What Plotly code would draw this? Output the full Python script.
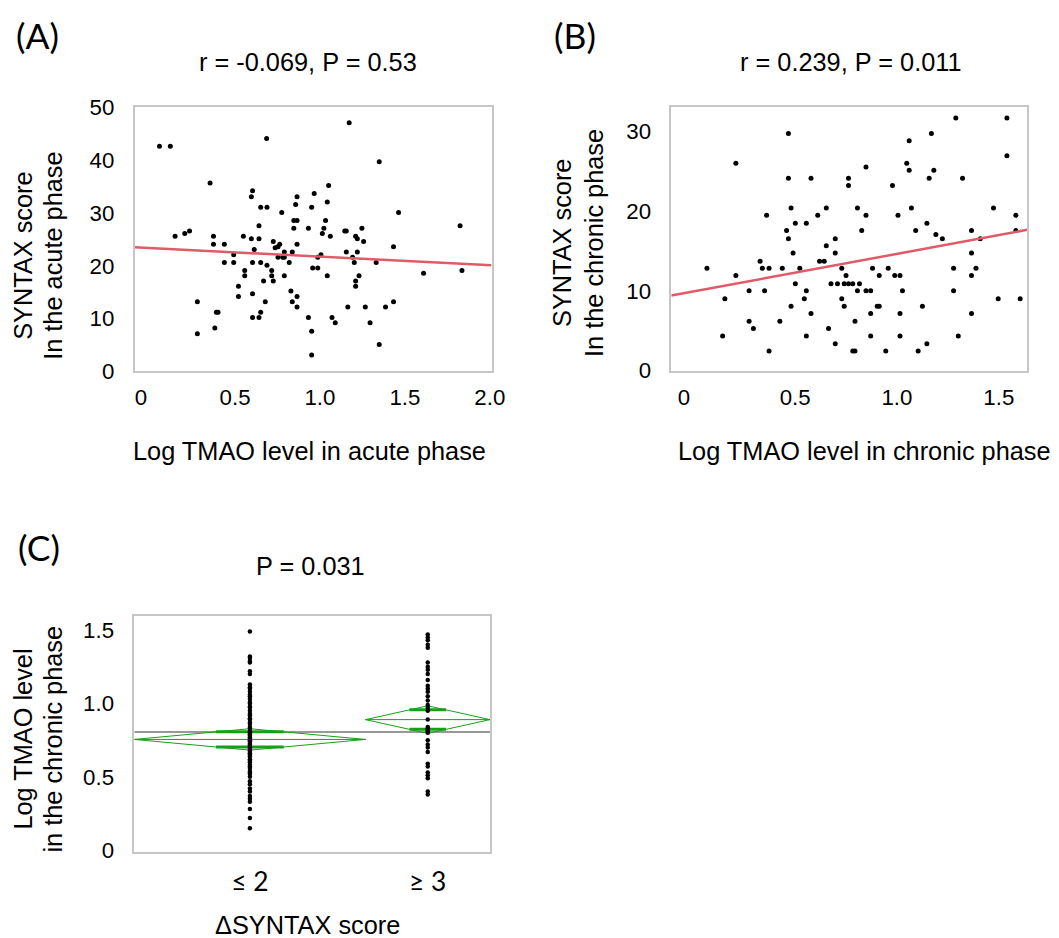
import math
import plotly.graph_objects as go

# target picture size and the figure size used to fill it
W, H = 1059, 938
FW, FH = 1073, 951
FS = FW / W

# ---------------- Panel A data (acute phase) ----------------
a_tmao = [0.055, 0.119, 0.686, 1.172, 1.349, 0.353, 0.603, 0.596, 1.051, 0.966,
          0.865, 1.043, 0.857, 0.651, 0.688, 0.951, 0.775, 1.463, 0.846, 0.865,
          1.033, 0.641, 0.846, 0.932, 1.023, 1.825, 0.147, 0.204, 0.232, 0.373,
          0.373, 0.437, 0.549, 0.596, 0.641, 1.014, 1.061, 1.146, 1.155, 1.247,
          1.210, 1.220, 1.257, 0.725, 0.763, 0.753, 0.736, 0.613, 0.865, 0.790,
          0.837, 0.492, 0.753, 0.781, 0.790, 1.006, 0.987, 1.155, 1.220, 1.192,
          1.433, 0.437, 0.492, 0.603, 0.651, 0.819, 1.202, 1.331, 0.688, 0.557,
          0.716, 0.957, 0.987, 0.557, 0.716, 0.790, 1.043, 1.230, 0.668, 0.725,
          1.210, 1.210, 1.610, 1.836, 0.520, 0.520, 0.603, 0.829, 0.837, 0.865,
          0.865, 0.678, 0.278, 0.390, 0.400, 0.381, 0.278, 0.651, 0.603, 0.641,
          0.932, 0.951, 0.951, 1.071, 1.090, 1.164, 1.267, 1.295, 1.386, 1.433,
          1.349]
a_syntax = [42.65, 42.65, 44.1, 47.1, 39.7, 35.7, 34.2, 33.1, 35.2, 33.7,
            33.1, 32.1, 31.6, 31.1, 31.1, 31.1, 30.1, 30.1, 28.6, 28.6,
            28.6, 27.6, 27.1, 27.1, 27.1, 27.6, 25.6, 26.1, 26.6, 25.6,
            24.1, 24.1, 25.6, 25.1, 25.1, 26.1, 25.6, 26.6, 26.6, 27.1,
            25.6, 25.1, 24.6, 24.6, 24.1, 23.6, 23.4, 23.1, 24.1, 22.6,
            22.6, 22.1, 21.6, 21.6, 21.6, 22.1, 21.6, 22.6, 22.6, 21.6,
            23.6, 20.6, 20.6, 20.6, 20.6, 20.6, 20.6, 20.6, 20.1, 19.1,
            19.1, 19.6, 19.6, 18.1, 18.1, 18.1, 18.1, 18.1, 17.1, 17.1,
            17.1, 16.1, 18.6, 19.1, 16.1, 14.2, 14.7, 15.2, 13.2, 14.2,
            12.2, 13.2, 13.2, 11.2, 11.2, 8.2, 7.1, 11.2, 10.2, 10.2,
            10.2, 7.6, 3.1, 10.2, 9.2, 12.2, 12.2, 9.2, 12.2, 13.2,
            5.1]
a_fit_intercept, a_fit_slope = 23.35, -1.62

# ---------------- Panel B data (chronic phase) ----------------
b_tmao = [1.289, 1.540, 0.467, 1.060, 1.169, 1.540, 0.209, 1.048, 1.060, 1.181,
          0.848, 0.467, 0.578, 0.762, 0.762, 1.158, 1.322, 0.978, 0.480, 0.653,
          0.806, 1.071, 1.474, 0.360, 0.611, 0.848, 1.005, 1.584, 0.501, 0.555,
          1.147, 0.458, 0.827, 1.092, 1.366, 1.584, 0.467, 1.191, 1.223, 1.409,
          0.653, 0.697, 0.490, 0.697, 1.366, 0.328, 0.620, 0.643, 0.067, 0.339,
          0.372, 0.437, 0.523, 0.729, 0.880, 0.957, 1.278, 1.388, 0.209, 0.750,
          0.913, 0.989, 1.015, 1.366, 0.501, 0.676, 0.708, 0.741, 0.762, 0.783,
          0.816, 0.274, 0.350, 0.555, 0.806, 0.848, 0.871, 1.027, 1.278, 0.155,
          0.545, 0.729, 1.497, 1.605, 0.480, 0.741, 0.903, 0.913, 1.125, 0.578,
          0.871, 1.015, 1.366, 0.274, 0.425, 0.794, 0.295, 0.664, 0.144, 0.555,
          0.871, 1.015, 1.301, 0.697, 1.147, 0.372, 0.783, 0.794, 0.945, 1.104]
b_syntax = [31.67, 31.67, 29.75, 28.84, 29.75, 26.93, 26.02, 26.02, 25.12, 25.12,
            25.52, 24.11, 24.11, 24.11, 23.20, 24.11, 24.11, 23.20, 20.38, 20.38,
            20.38, 20.38, 20.38, 19.47, 19.47, 19.47, 19.47, 19.47, 18.47, 18.47,
            18.47, 17.56, 17.56, 17.56, 17.56, 17.56, 16.55, 17.06, 16.55, 16.55,
            15.65, 16.55, 14.74, 14.74, 14.74, 13.73, 13.73, 13.73, 12.83, 12.83,
            12.83, 12.83, 12.83, 12.83, 12.83, 12.83, 12.83, 12.83, 11.92, 11.92,
            11.92, 11.92, 11.92, 11.92, 10.91, 10.91, 10.91, 10.91, 10.91, 10.91,
            10.91, 10.01, 10.01, 10.01, 10.01, 10.01, 10.01, 10.01, 10.01, 9.00,
            9.00, 9.00, 9.00, 9.00, 8.09, 8.09, 8.09, 8.09, 8.09, 7.18,
            7.18, 7.18, 7.18, 6.18, 6.18, 6.18, 5.27, 5.27, 4.36, 4.36,
            4.36, 4.36, 4.36, 3.36, 3.36, 2.45, 2.45, 2.45, 2.45, 2.45]
b_fit_intercept, b_fit_slope = 9.92, 4.72

# ---------------- Panel C data (delta SYNTAX groups) ----------------
c_groups = ["≤ 2", "≥ 3"]
c_low = [1.49, 1.32, 1.31, 1.29, 1.28, 1.22, 1.20, 1.13, 1.11, 1.10,
         1.08, 1.06, 1.05, 1.03, 1.01, 1.00, 0.98, 0.97, 0.95, 0.93,
         0.92, 0.90, 0.89, 0.87, 0.86, 0.84, 0.83, 0.81, 0.80, 0.79,
         0.78, 0.77, 0.76, 0.75, 0.74, 0.73, 0.72, 0.71, 0.70, 0.69,
         0.68, 0.67, 0.66, 0.65, 0.64, 0.62, 0.61, 0.60, 0.58, 0.57,
         0.56, 0.54, 0.53, 0.52, 0.50, 0.47, 0.45, 0.42, 0.40, 0.37,
         0.35, 0.33, 0.28, 0.22, 0.15]
c_high = [1.47, 1.45, 1.43, 1.40, 1.38, 1.28, 1.25, 1.23, 1.20, 1.16,
          1.12, 1.10, 1.08, 1.05, 1.02, 0.99, 0.97, 0.95, 0.89, 0.84,
          0.83, 0.82, 0.81, 0.80, 0.75, 0.72, 0.70, 0.67, 0.59, 0.57,
          0.53, 0.51, 0.49, 0.40, 0.38]
c_mean = [0.755, 0.890]
c_ci = [0.073, 0.094]
c_grand_mean = 0.806

# ---------------- styling ----------------
FONT = "Liberation Sans, Arial, sans-serif"
LETTER_FONT = "Lato, Noto Sans, sans-serif"
BOX = "#c6c6c6"
RED = "#E05A68"
GREEN = "#17A017"
GRAY = "#989898"


def dx(l, r):
    return [l / W, r / W]


def dy(t, b):
    return [1 - b / H, 1 - t / H]


fig = go.Figure()

# Panel A
a_rng = [-0.092, 2.01]
fig.add_trace(go.Scatter(x=a_tmao, y=a_syntax, mode="markers", xaxis="x", yaxis="y",
                         marker=dict(color="black", size=5), showlegend=False))
fig.add_trace(go.Scatter(x=a_rng, y=[a_fit_intercept + a_fit_slope * v for v in a_rng],
                         mode="lines", xaxis="x", yaxis="y",
                         line=dict(color=RED, width=2.5), showlegend=False))

# Panel B
b_rng = [-0.108, 1.64]
fig.add_trace(go.Scatter(x=b_tmao, y=b_syntax, mode="markers", xaxis="x2", yaxis="y2",
                         marker=dict(color="black", size=5), showlegend=False))
fig.add_trace(go.Scatter(x=b_rng, y=[b_fit_intercept + b_fit_slope * v for v in b_rng],
                         mode="lines", xaxis="x2", yaxis="y2",
                         line=dict(color=RED, width=2.5), showlegend=False))

# Panel C: group widths proportional to group sizes (means diamonds)
n = [len(c_low), len(c_high)]
tot = sum(n)
edges = [0, n[0] / tot, 1.0]
centers = [(edges[i] + edges[i + 1]) / 2 for i in range(2)]

fig.add_trace(go.Scatter(x=[0, 1], y=[c_grand_mean, c_grand_mean], mode="lines",
                         xaxis="x3", yaxis="y3", line=dict(color=GRAY, width=2),
                         showlegend=False))
for i in range(2):
    l, r, c = edges[i], edges[i + 1], centers[i]
    m, ci = c_mean[i], c_ci[i]
    fig.add_trace(go.Scatter(x=[l, c, r, c, l], y=[m, m + ci, m, m - ci, m], mode="lines",
                             xaxis="x3", yaxis="y3", line=dict(color=GREEN, width=1),
                             showlegend=False))
    fig.add_trace(go.Scatter(x=[l, r], y=[m, m], mode="lines", xaxis="x3", yaxis="y3",
                             line=dict(color=GREEN, width=1), showlegend=False))
    k = 1 / math.sqrt(2)
    half = (r - l) / 2 * (1 - k)
    for s in (1, -1):
        fig.add_trace(go.Scatter(x=[c - half, c + half], y=[m + s * ci * k] * 2, mode="lines",
                                 xaxis="x3", yaxis="y3", line=dict(color=GREEN, width=3),
                                 showlegend=False))

fig.add_trace(go.Scatter(x=[centers[0]] * len(c_low), y=c_low, mode="markers",
                         xaxis="x3", yaxis="y3", marker=dict(color="black", size=4.5),
                         showlegend=False))
fig.add_trace(go.Scatter(x=[centers[1]] * len(c_high), y=c_high, mode="markers",
                         xaxis="x3", yaxis="y3", marker=dict(color="black", size=4.5),
                         showlegend=False))

tickfont = dict(family=FONT, size=22 * FS, color="black")
axis_common = dict(showgrid=False, zeroline=False, showline=True, mirror=True,
                   linecolor=BOX, linewidth=1.5, ticks="", tickfont=tickfont,
                   fixedrange=True)
NB = "\u00a0\u00a0\u00a0"

fig.update_layout(
    width=FW, height=FH, margin=dict(l=0, r=0, t=0, b=0),
    paper_bgcolor="white", plot_bgcolor="white", showlegend=False,
    xaxis=dict(domain=dx(134.5, 491.5), range=a_rng, tickvals=[0, 0.5, 1.0, 1.5, 2.0],
               ticktext=["0" + NB, "0.5", "1.0", "1.5", "2.0"], anchor="y",
               ticklabelstandoff=5, **axis_common),
    yaxis=dict(domain=dy(96.7, 364), range=[0, 50], tickvals=[0, 10, 20, 30, 40, 50],
               ticktext=["0", "10", "20", "30", "40", "50"], anchor="x",
               ticklabelstandoff=14, **axis_common),
    xaxis2=dict(domain=dx(671.3, 1027.3), range=b_rng, tickvals=[0, 0.5, 1.0, 1.5],
                ticktext=["0" + NB, "0.5", "1.0", "1.5"], anchor="y2",
                ticklabelstandoff=6, **axis_common),
    yaxis2=dict(domain=dy(96.7, 363.3), range=[0, 33], tickvals=[0, 10, 20, 30],
                ticktext=["0", "10", "20", "30"], anchor="x2",
                ticklabelstandoff=14, **axis_common),
    xaxis3=dict(domain=dx(134.3, 490), range=[0, 1], tickvals=centers,
                ticktext=c_groups, anchor="y3", ticklabelstandoff=6,
                **{**axis_common, "tickfont": dict(family=LETTER_FONT, size=26 * FS, color="black")}),
    yaxis3=dict(domain=dy(611.7, 850.7), range=[-0.011, 1.597], tickvals=[0, 0.5, 1.0, 1.5],
                ticktext=["0", "0.5", "1.0", "1.5"], anchor="x3",
                ticklabelstandoff=14, **axis_common),
)


def ann(text, x, y, size=25, family=FONT, angle=0):
    fig.add_annotation(text=text, x=x / W, y=1 - y / H, xref="paper", yref="paper",
                       xanchor="center", yanchor="middle", showarrow=False,
                       textangle=angle, font=dict(family=family, size=size * FS, color="black"))


# panel letters
ann("(A)", 37, 24, size=35, family=LETTER_FONT)
ann("(B)", 575, 24, size=35, family=LETTER_FONT)
ann("(C)", 39, 542, size=35, family=LETTER_FONT)

# titles
ann("r = -0.069, P = 0.53", 308, 51)
ann("r = 0.239, P = 0.011", 851, 51)
ann("P = 0.031", 310, 561)

# x titles
ann("Log TMAO level in acute phase", 309, 445)
ann("Log TMAO level in chronic phase", 864, 445)
ann("ΔSYNTAX score", 307, 925)

# y titles
ann("SYNTAX score", 23, 247, angle=-90)
ann("In the acute phase", 53, 247, angle=-90)
ann("SYNTAX score", 562, 234, angle=-90)
ann("In the chronic phase", 594, 234, angle=-90)
ann("Log TMAO level", 23, 737, angle=-90)
ann("in the chronic phase", 53, 737, angle=-90)

# pin the figure to the top-left corner of the page (no body margin, no scrollbars)
page_fix = (
    "document.documentElement.style.margin='0';"
    "document.body.style.margin='0';document.body.style.overflow='hidden';"
    "var gd=document.getElementById('{plot_id}');"
    "gd.style.position='fixed';gd.style.left='0px';gd.style.top='0px';"
)
fig.write_html("out.html", post_script=page_fix, config={"displayModeBar": False})
